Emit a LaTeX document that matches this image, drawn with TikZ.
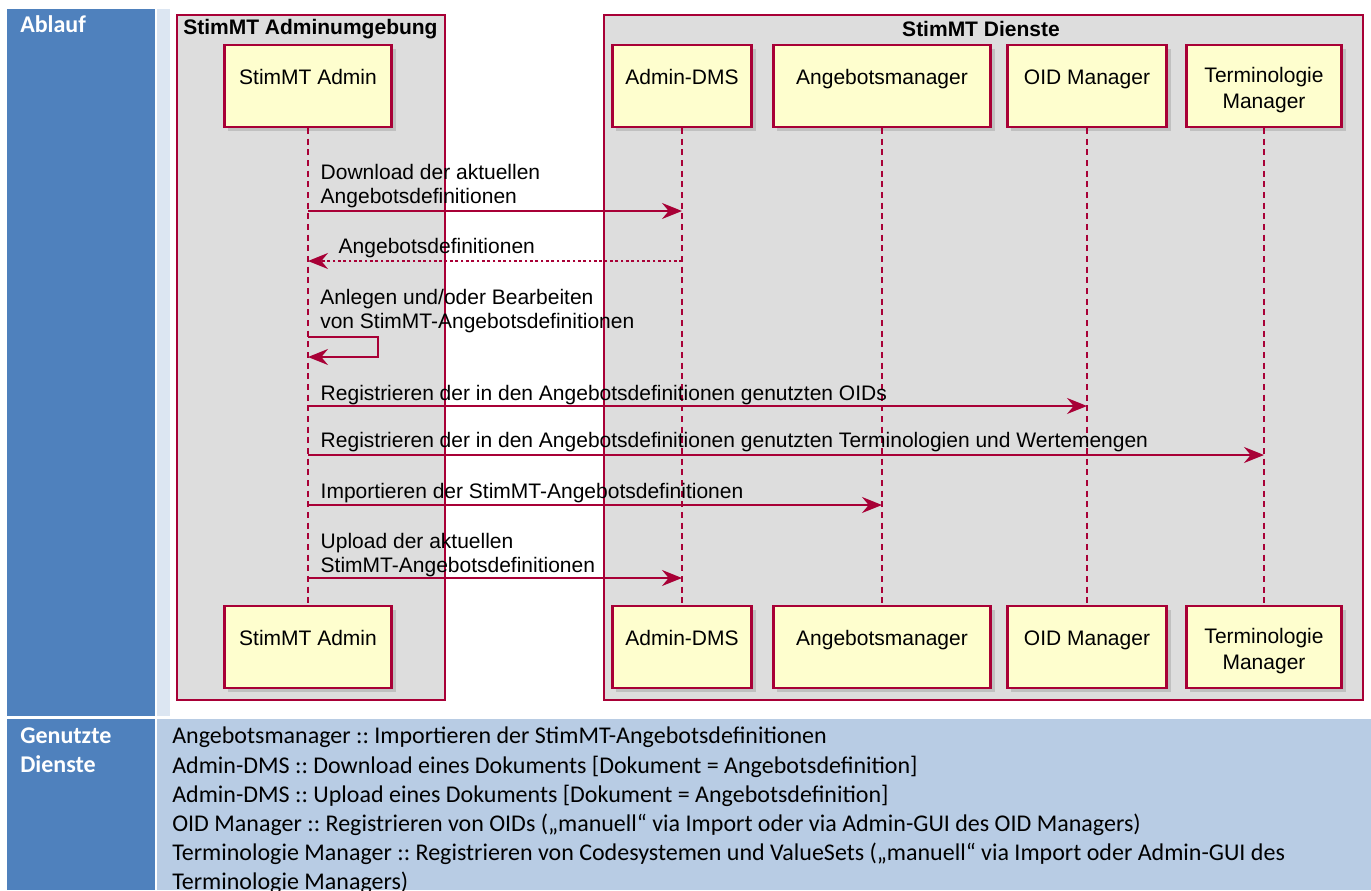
\documentclass[tikz,border=0pt]{standalone}
\usepackage{fontspec}
\setmainfont{Carlito}
\newfontfamily\umlfont{Liberation Sans}
\usetikzlibrary{arrows.meta,shadows}
\definecolor{umlred}{HTML}{A80036}
\definecolor{umlyellow}{HTML}{FEFECE}
\definecolor{umlgray}{HTML}{DDDDDD}
\definecolor{cellblue}{HTML}{4F81BD}
\definecolor{celllight}{HTML}{B8CCE4}
\definecolor{cellstrip}{HTML}{DCE6F2}
\frenchspacing

\begin{document}
\begin{tikzpicture}[x=0.75pt,y=-0.75pt]
            %
            % `headtext' is used for the white titles in the left cells.
            % `bodytext' is used for the list of services.
            % `group' is used for the grey background boxes.
            % `participant' is used for the yellow boxes.
            % `lifeline' is the dashed line below a participant.
            % `msg' and `reply' are the message arrows, `msgtext' their labels.
            \tikzstyle{headtext} = [text=white,font=\bfseries\fontsize{18}{21.75}\selectfont,anchor=north west,inner sep=0pt,align=left]
            \tikzstyle{bodytext} = [font=\fontsize{18}{21.9}\selectfont,anchor=north west,inner sep=0pt,align=left]
            \tikzstyle{group} = [draw=umlred,fill=umlgray,line width=1.1pt]
            \tikzstyle{grouptitle} = [font=\umlfont\bfseries\fontsize{15.75}{18}\selectfont,inner sep=0pt]
            \tikzstyle{participant} = [draw=umlred,fill=umlyellow,line width=1.6pt,minimum height=61.5pt,align=center,
                font=\umlfont\fontsize{15.75}{19.5}\selectfont,text height=36.8pt,
                drop shadow={shadow xshift=3pt,shadow yshift=-3pt,opacity=0.3}]
            \tikzstyle{lifeline} = [draw=umlred,line width=0.8pt,dash pattern=on 4.5pt off 3.5pt]
            \tikzstyle{msg} = [draw=umlred,line width=1.1pt,-{Stealth[length=15pt,width=12pt,inset=5pt]}]
            \tikzstyle{reply} = [msg,dash pattern=on 2pt off 2pt]
            \tikzstyle{msgtext} = [font=\umlfont\fontsize{15.75}{18}\selectfont,align=left,inner sep=0pt,anchor=south west]
            %
            % Page size
            \useasboundingbox (0,0) rectangle (1371,890);
            %
            % Table, first row
            \fill[cellblue] (7,9) rectangle (155,716);
            \fill[cellstrip] (157,9) rectangle (170,716);
            \node[headtext] (ablauf) at (20,15) {Ablauf};
            %
            % Table, second row
            \fill[cellblue] (7,719) rectangle (155,890);
            \fill[celllight] (157,719) rectangle (1371,890);
            \node[headtext] (genutzt) at (20,727) {Genutzte\\Dienste};
            \node[bodytext] (dienste) at (172,727) {%
                Angebotsmanager :: Importieren der StimMT-Angebotsdefinitionen\\
                Admin-DMS :: Download eines Dokuments [Dokument = Angebotsdefinition]\\
                Admin-DMS :: Upload eines Dokuments [Dokument = Angebotsdefinition]\\
                OID Manager :: Registrieren von OIDs („manuell“ via Import oder via Admin-GUI des OID Managers)\\
                Terminologie Manager :: Registrieren von Codesystemen und ValueSets („manuell“ via Import oder Admin-GUI des\\
                Terminologie Managers)};
            %
            % Boxes
            \draw[group] (177,15) rectangle (445,700);
            \draw[group] (604,15) rectangle (1363,700);
            \node[grouptitle,anchor=west] (admbox) at (183,29) {StimMT Adminumgebung};
            \node[grouptitle] (dienstbox) at (981,29) {StimMT Dienste};
            %
            % Participants, top
            \node[participant,minimum width=125.3pt] (admin) at (308,86) {StimMT Admin\\~};
            \node[participant,minimum width=104.3pt] (dms) at (682,86) {Admin-DMS\\~};
            \node[participant,minimum width=162.8pt] (angebot) at (882,86) {Angebotsmanager\\~};
            \node[participant,minimum width=119.3pt] (oid) at (1087,86) {OID Manager\\~};
            \node[participant,minimum width=116.3pt] (termino) at (1264,86) {Terminologie\\Manager};
            %
            % Participants, bottom
            \node[participant,minimum width=125.3pt] (adminB) at (308,647) {StimMT Admin\\~};
            \node[participant,minimum width=104.3pt] (dmsB) at (682,647) {Admin-DMS\\~};
            \node[participant,minimum width=162.8pt] (angebotB) at (882,647) {Angebotsmanager\\~};
            \node[participant,minimum width=119.3pt] (oidB) at (1087,647) {OID Manager\\~};
            \node[participant,minimum width=116.3pt] (terminoB) at (1264,647) {Terminologie\\Manager};
            %
            % Lifelines
            \draw[lifeline] (admin) -- (adminB);
            \draw[lifeline] (dms) -- (dmsB);
            \draw[lifeline] (angebot) -- (angebotB);
            \draw[lifeline] (oid) -- (oidB);
            \draw[lifeline] (termino) -- (terminoB);
            %
            % Message rows
            \coordinate (m1) at (0,211);
            \coordinate (m2) at (0,261);
            \coordinate (m3) at (0,337);
            \coordinate (m3b) at (0,357);
            \coordinate (m4) at (0,406);
            \coordinate (m5) at (0,455);
            \coordinate (m6) at (0,505);
            \coordinate (m7) at (0,578);
            %
            % Messages
            \draw[msg] (admin |- m1) -- (dms |- m1)
                node[msgtext,pos=0,xshift=9pt,yshift=1.5pt] (t1) {Download der aktuellen\\Angebotsdefinitionen};
            \draw[reply] (dms |- m2) -- (admin |- m2)
                node[msgtext,pos=1,xshift=22.5pt,yshift=2pt] (t2) {Angebotsdefinitionen};
            \draw[msg] (admin |- m3) -- ++(70,0) -- ++(0,20) -- (admin |- m3b);
            \node[msgtext,xshift=9pt,yshift=3pt] (t3) at (admin |- m3) {Anlegen und/oder Bearbeiten\\von StimMT-Angebotsdefinitionen};
            \draw[msg] (admin |- m4) -- (oid |- m4)
                node[msgtext,pos=0,xshift=9pt,yshift=0pt] (t4) {Registrieren der in den Angebotsdefinitionen genutzten OIDs};
            \draw[msg] (admin |- m5) -- (termino |- m5)
                node[msgtext,pos=0,xshift=9pt,yshift=1.5pt] (t5) {Registrieren der in den Angebotsdefinitionen genutzten Terminologien und Wertemengen};
            \draw[msg] (admin |- m6) -- (angebot |- m6)
                node[msgtext,pos=0,xshift=9pt,yshift=1pt] (t6) {Importieren der StimMT-Angebotsdefinitionen};
            \draw[msg] (admin |- m7) -- (dms |- m7)
                node[msgtext,pos=0,xshift=9pt,yshift=0.5pt] (t7) {Upload der aktuellen\\StimMT-Angebotsdefinitionen};
        \end{tikzpicture}
\end{document}
